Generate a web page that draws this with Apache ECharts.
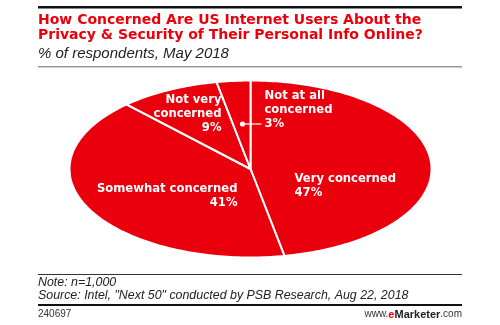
<!DOCTYPE html>
<html>
<head>
<meta charset="utf-8">
<script src="https://cdn.jsdelivr.net/npm/echarts@6/dist/echarts.min.js"></script>
<style>
  html, body { margin: 0; padding: 0; background: #fff; }
  #chart { width: 500px; height: 325px; }
</style>
</head>
<body>
<div id="chart"></div>
<script>
// Survey answers, clockwise from 12 o'clock
const categories = ['Very concerned', 'Somewhat concerned', 'Not very concerned', 'Not at all concerned'];
const labelLines = [['Very concerned'], ['Somewhat concerned'], ['Not very', 'concerned'], ['Not at all', 'concerned']];
const shares = [47, 41, 9, 3];

const RED = '#ea000c';
const FONT = '"Liberation Sans", Arial, sans-serif';
const HEAVY = '"DejaVu Sans", sans-serif';

// Flattened pie geometry
const cx = 250.5, cy = 169, rx = 181, ry = 88.5;

// Label anchors (top of the first line) relative to the ellipse centre
const labelLayout = [
  { dx: 44, dy: 3, align: 'left' },
  { dx: -13, dy: 13, align: 'right' },
  { dx: -29, dy: -76, align: 'right' },
  { dx: 14, dy: -80, align: 'left' }
];

const total = shares.reduce((a, b) => a + b, 0);
const starts = [];
shares.reduce((acc, v, i) => { starts[i] = acc; return acc + v; }, 0);

function pt(angle) {
  // angle measured clockwise from the top
  return [cx + rx * Math.sin(angle), cy - ry * Math.cos(angle)];
}

function renderSlice(params, api) {
  const i = params.dataIndex;
  const v = api.value(0);
  const a0 = starts[i] / total * Math.PI * 2;
  const a1 = (starts[i] + v) / total * Math.PI * 2;
  const steps = Math.max(4, Math.ceil((a1 - a0) / 0.02));
  const points = [[cx, cy]];
  for (let k = 0; k <= steps; k++) points.push(pt(a0 + (a1 - a0) * k / steps));
  const lay = labelLayout[i];
  const lines = labelLines[i].concat([v + '%']);
  const children = [{
    type: 'polygon',
    shape: { points },
    style: { fill: RED, stroke: '#fff', lineWidth: 2, lineJoin: 'miter' }
  }, {
    type: 'text',
    z2: 10,
    style: {
      text: lines.join('\n'),
      x: cx + lay.dx,
      y: cy + lay.dy,
      fill: '#fff',
      fontFamily: HEAVY,
      fontWeight: 'bold',
      fontSize: 11.6,
      lineHeight: 14,
      align: lay.align,
      verticalAlign: 'top'
    }
  }];
  if (i === 3) {
    // leader from the thin slice to its label
    const ly = cy + lay.dy + 35;
    children.push({ type: 'line', z2: 10, shape: { x1: cx - 8, y1: ly, x2: cx + 11, y2: ly }, style: { stroke: '#fff', lineWidth: 1.2 } });
    children.push({ type: 'circle', z2: 10, shape: { cx: cx - 8, cy: ly, r: 2.6 }, style: { fill: '#fff' } });
  }
  return { type: 'group', children };
}

const chart = echarts.init(document.getElementById('chart'), null, { renderer: 'canvas' });

chart.setOption({
  backgroundColor: '#fff',
  animation: false,
  series: [{
    type: 'custom',
    coordinateSystem: 'none',
    renderItem: renderSlice,
    data: shares.map((v, i) => ({ name: categories[i], value: [v] }))
  }],
  graphic: [
    { type: 'rect', shape: { x: 38, y: 6, width: 424, height: 2.5 }, style: { fill: '#111' } },
    { type: 'text', style: { text: 'How Concerned Are US Internet Users About the\nPrivacy & Security of Their Personal Info Online?', x: 38, y: 12.5, fill: RED, fontFamily: HEAVY, fontWeight: 'bold', fontSize: 14, lineHeight: 15.5 } },
    { type: 'text', style: { text: '% of respondents, May 2018', x: 38, y: 46, fill: '#222', fontFamily: FONT, fontStyle: 'italic', fontSize: 15 } },
    { type: 'rect', shape: { x: 38, y: 66, width: 424, height: 1.5 }, style: { fill: '#999' } },
    { type: 'rect', shape: { x: 38, y: 274, width: 424, height: 1 }, style: { fill: '#333' } },
    { type: 'text', style: { text: 'Note: n=1,000\nSource: Intel, "Next 50" conducted by PSB Research, Aug 22, 2018', x: 38, y: 276, fill: '#222', fontFamily: FONT, fontStyle: 'italic', fontSize: 12.4, lineHeight: 13 } },
    { type: 'rect', shape: { x: 38, y: 304, width: 424, height: 2 }, style: { fill: '#111' } },
    { type: 'text', style: { text: '240697', x: 38, y: 309, fill: '#333', fontFamily: FONT, fontSize: 10 } },
    { type: 'text', style: {
        text: '{n|www.}{e|e}{b|Marketer}{n|.com}', x: 462, y: 309, align: 'right',
        rich: {
          n: { fill: '#333', fontFamily: FONT, fontSize: 10 },
          e: { fill: RED, fontFamily: FONT, fontSize: 11, fontWeight: 'bold' },
          b: { fill: '#222', fontFamily: FONT, fontSize: 11, fontWeight: 'bold' }
        }
      } }
  ]
});
</script>
</body>
</html>
